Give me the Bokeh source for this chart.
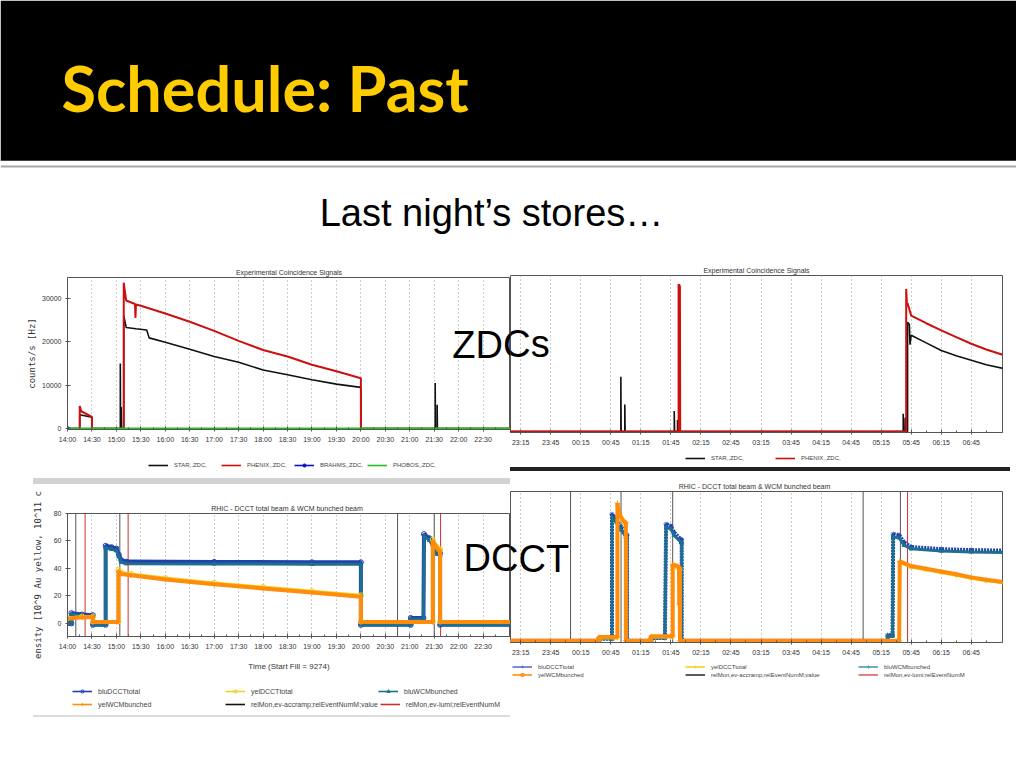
from bokeh.plotting import figure
from bokeh.models import Range1d, Label, Span, BoxAnnotation, Legend, LegendItem, FixedTicker, Spacer
from bokeh.layouts import column, row
from bokeh.embed import file_html
from bokeh.resources import INLINE

# ---------------- texts ----------------
slide_title = "Schedule: Past"
slide_subtitle = "Last night\u2019s stores\u2026"
zdc_tag = "ZDCs"
dcct_tag = "DCCT"
zdc_title = "Experimental Coincidence Signals"
dcct_title = "RHIC  -  DCCT total beam & WCM bunched beam"
zdc_ylabel = "counts/s [Hz]"
dcct_ylabel = "ensity [10^9 Au yellow, 10^11 c"
dcct_xlabel = "Time (Start Fill = 9274)"

# ---------------- ticks ----------------
left_ticks = [14.0, 14.5, 15.0, 15.5, 16.0, 16.5, 17.0, 17.5, 18.0, 18.5,
              19.0, 19.5, 20.0, 20.5, 21.0, 21.5, 22.0, 22.5]
left_tick_labels = ["14:00", "14:30", "15:00", "15:30", "16:00", "16:30", "17:00", "17:30", "18:00",
                    "18:30", "19:00", "19:30", "20:00", "20:30", "21:00", "21:30", "22:00", "22:30"]
right_ticks = [23.25, 23.75, 24.25, 24.75, 25.25, 25.75, 26.25, 26.75,
               27.25, 27.75, 28.25, 28.75, 29.25, 29.75, 30.25, 30.75]
right_tick_labels = ["23:15", "23:45", "00:15", "00:45", "01:15", "01:45", "02:15", "02:45",
                     "03:15", "03:45", "04:15", "04:45", "05:15", "05:45", "06:15", "06:45"]
zdc_yticks = [0, 10000, 20000, 30000]
dcct_yticks = [0, 20, 40, 60, 80]

# ---------------- ZDC, evening (hours, counts/s) ----------------
star_a_t = [14.00, 14.25, 14.25, 14.50, 14.50, 15.08, 15.08, 15.085, 15.10, 15.10, 15.105,
            15.15, 15.15, 15.20, 15.40, 15.62, 15.67, 16.00, 16.50, 17.00, 17.50, 18.00,
            18.50, 19.00, 19.50, 20.00, 20.00, 21.52, 21.52, 21.525, 21.56, 21.56, 21.565, 23.10]
star_a_v = [0, 0, 3200, 2600, 0, 0, 15000, 0, 0, 5000, 0,
            0, 26000, 23300, 23000, 22700, 20900, 19900, 18300, 16600, 15300, 13500,
            12400, 11250, 10250, 9500, 0, 0, 10500, 0, 0, 5500, 0, 0]
phenix_a_t = [14.00, 14.25, 14.25, 14.28, 14.50, 14.50, 15.15, 15.15, 15.20, 15.38, 15.39, 15.40,
              15.50, 16.00, 16.50, 17.00, 17.50, 18.00, 18.50, 19.00, 19.50, 20.00, 20.00, 23.10]
phenix_a_v = [0, 0, 5200, 4000, 2700, 0, 0, 33600, 29500, 28700, 25500, 28600,
              28300, 26500, 24600, 22500, 20200, 18100, 16600, 14700, 13200, 11600, 0, 0]
brahms_a_t = [14.0]
brahms_a_v = [0]
phobos_a_t = [14.0, 23.1]
phobos_a_v = [0, 0]

# ---------------- ZDC, night (hours after previous midnight) ----------------
star_b_t = [23.00, 24.917, 24.917, 24.922, 24.983, 24.983, 24.988, 25.806, 25.806, 25.811,
            25.86, 25.86, 25.865, 29.617, 29.617, 29.622, 29.65, 29.65, 29.655, 29.69, 29.69,
            29.72, 29.73, 29.75, 30.00, 30.25, 30.50, 30.75, 31.00, 31.30]
star_b_v = [0, 0, 12300, 0, 0, 6100, 0, 0, 4600, 0,
            0, 2600, 0, 0, 4000, 0, 0, 3100, 0, 0, 24500,
            24000, 19500, 21600, 19900, 18200, 17000, 16000, 15000, 14100]
phenix_b_t = [23.00, 25.878, 25.878, 25.885, 25.89, 25.90, 25.905, 29.667, 29.667, 29.68,
              29.69, 29.75, 30.00, 30.25, 30.50, 30.75, 31.00, 31.30]
phenix_b_v = [0, 0, 33100, 31500, 33000, 32500, 0, 0, 32000, 28300,
              28800, 26000, 24300, 22700, 21200, 19700, 18400, 17100]

# ---------------- DCCT, evening ----------------
blu_a_t = [14.00, 14.08, 14.08, 14.30, 14.52, 14.52, 14.78, 14.78, 14.90, 15.00, 15.05, 15.10,
           15.20, 17.00, 19.00, 20.00, 20.00, 21.02, 21.02, 21.28, 21.29, 21.40, 21.47, 21.55,
           21.62, 21.62, 23.10]
blu_tot_a_v = [0, 0, 7.5, 6.5, 6, -1, -1, 56.5, 55.5, 54.5, 50, 46,
               45, 44.8, 44.5, 44.5, -1, -1, 4, 4, 65, 62, 58.5, 52,
               51, -1, -1]
blu_wcm_a_v = [0, 0, 6.5, 5.5, 5, -1, -1, 55, 54, 53, 48.5, 44.5,
               43.5, 43.3, 43, 43, -1, -1, 3, 3, 63.5, 60.5, 57, 50.5,
               49.5, -1, -1]
yel_a_t = [14.00, 14.30, 14.52, 14.52, 15.04, 15.04, 15.10, 15.30, 16.00, 17.00, 18.00,
           19.00, 20.00, 20.00, 21.47, 21.47, 21.55, 21.60, 21.62, 21.62, 23.10]
yel_tot_a_v = [4, 5, 5, 1.5, 1.5, 39, 37, 36, 33, 29.5, 26.5,
               23.5, 20.5, 1.5, 1.5, 61, 56, 54, 54, 1.5, 1.5]
yel_wcm_a_v = [3.5, 4.5, 4.5, 1, 1, 38, 36, 35, 32, 28.5, 25.5,
               22.5, 19.5, 1, 1, 60, 55, 53, 53, 1, 1]
accramp_a = [14.17, 15.07, 20.75, 21.50]
lumi_a = [14.36, 15.24, 21.63]

# ---------------- DCCT, night ----------------
blu_b_t = [23.00, 24.55, 24.55, 24.77, 24.77, 24.80, 24.92, 25.00, 25.02, 25.02,
           25.42, 25.42, 25.65, 25.67, 25.75, 25.80, 25.92, 25.93, 25.93,
           29.36, 29.36, 29.44, 29.45, 29.55, 29.63, 29.75, 30.25, 30.75, 31.30]
blu_tot_b_v = [0, 0, 1, 1, 69.5, 68, 62.5, 58.5, 58, 0,
               0, 1.5, 1.5, 64, 63, 59.5, 55.5, 55.5, 0,
               0, 3, 3, 58.5, 58, 54, 51.5, 50.3, 49.8, 49.5]
blu_wcm_b_v = [0, 0, 1, 1, 68, 66.5, 61, 57, 56.5, 0,
               0, 1.5, 1.5, 62.5, 61.5, 58, 54, 54, 0,
               0, 2.5, 2.5, 57, 56.5, 52.5, 50.5, 49.3, 48.8, 48.5]
yel_b_t = [23.00, 24.55, 24.55, 24.86, 24.86, 24.90, 24.97, 25.00, 25.00,
           25.42, 25.42, 25.78, 25.78, 25.86, 25.885, 25.89, 25.895, 25.90, 25.90,
           29.55, 29.56, 29.75, 30.00, 30.25, 30.50, 30.75, 31.00, 31.30]
yel_tot_b_v = [0, 0, 1.5, 1.5, 74, 68, 64.5, 64, 0,
               0, 2, 2, 41, 40, 39.5, 20, 39, 39, 0,
               0, 43, 40.5, 39, 37.5, 36, 34.3, 33, 31.7]
yel_wcm_b_v = [0, 0, 2, 2, 75.5, 69, 65.5, 65, 0,
               0, 2.5, 2.5, 42, 41, 40.5, 20, 40, 40, 0,
               0, 43.6, 41, 39.5, 38, 36.5, 34.8, 33.5, 32.2]
accramp_b = [24.08, 24.92, 25.78, 28.95, 29.57]
lumi_b = [29.69]

# ---------------- legend entries ----------------
zdc_a_names = ["STAR,,ZDC,", "PHENIX,,ZDC,", "BRAHMS,,ZDC,", "PHOBOS,,ZDC,"]
zdc_b_names = ["STAR,,ZDC,", "PHENIX,,ZDC,"]
dcct_row1 = ["bluDCCTtotal", "yelDCCTtotal", "bluWCMbunched"]
dcct_row2 = ["yelWCMbunched", "relMon,ev-accramp;relEventNumM;value", "relMon,ev-lumi;relEventNumM"]

# ---------------- styling ----------------
SMALL = "Liberation Sans"
MONO = "DejaVu Sans Mono"
C_STAR, C_PHENIX, C_BRAHMS, C_PHOBOS = "#111111", "#cc1010", "#1010c0", "#22c022"
C_BLU, C_WCM, C_YEL, C_ORA = "#2040b0", "#1d6f90", "#f2d21e", "#ff8c0a"
C_ACC, C_LUMI = "#555555", "#c83030"


def make_panel(width, height, x_rng, y_rng, borders, title, ticks, tick_labels, yticks, show_y):
    p = figure(width=width, height=height, x_range=Range1d(*x_rng), y_range=Range1d(*y_rng),
               output_backend="svg", toolbar_location=None,
               min_border_left=borders[0], min_border_right=borders[1],
               min_border_top=borders[2], min_border_bottom=borders[3])
    p.title.text = title
    p.title.align = "center"
    p.title.text_font = SMALL
    p.title.text_font_size = "7px"
    p.title.text_font_style = "normal"
    p.title.text_color = "#333333"
    p.title.standoff = 4
    p.outline_line_color = "#555555"
    p.border_fill_color = "white"
    minor = sorted(ticks + [t + 0.25 for t in ticks] + [ticks[0] - 0.25])
    xt = FixedTicker(ticks=ticks, minor_ticks=minor)
    p.xaxis.ticker = xt
    p.xgrid.ticker = xt
    p.xaxis.major_label_overrides = dict(zip(ticks, tick_labels))
    p.xgrid.grid_line_color = "#9a9a9a"
    p.xgrid.grid_line_dash = "1 3"
    p.ygrid.visible = False
    p.yaxis.ticker = FixedTicker(ticks=yticks, minor_ticks=[])
    for ax in p.axis:
        ax.axis_line_color = "#555555"
        ax.major_tick_line_color = "#555555"
        ax.minor_tick_line_color = "#555555"
        ax.major_tick_in = 3
        ax.major_tick_out = 2
        ax.minor_tick_in = 2
        ax.minor_tick_out = 0
        ax.major_label_text_font = SMALL
        ax.major_label_text_font_size = "7px"
        ax.major_label_text_color = "#333333"
        ax.major_label_standoff = 4
        ax.axis_label_text_font = MONO
        ax.axis_label_text_font_size = "9px"
        ax.axis_label_text_font_style = "normal"
        ax.axis_label_text_color = "#333333"
    if not show_y:
        p.yaxis.visible = False
    return p


def tag(p, x, y, text):
    p.add_layout(Label(x=x, y=y, text=text, text_font="Liberation Sans", text_font_size="38px",
                       text_color="black", text_baseline="alphabetic"))


def legend_fig(width, height, rows):
    """A strip under a panel that carries the panel's legend rows (sample glyphs kept off-range)."""
    f = figure(width=width, height=height, x_range=Range1d(0, 1), y_range=Range1d(0, 1),
               output_backend="svg", toolbar_location=None, min_border=0)
    f.axis.visible = False
    f.grid.visible = False
    f.outline_line_color = None
    off = [-5, -4]
    for names, styles, loc, font, h, label_w in rows:
        items = []
        for name, (color, marker) in zip(names, styles):
            rs = [f.line(off, off, color=color, line_width=1.6)]
            if marker:
                rs.append(f.scatter(off, off, marker=marker, size=5, line_color=color,
                                    fill_color=color if marker == "circle_dot" else None))
            items.append(LegendItem(label=name, renderers=rs))
        f.add_layout(Legend(items=items, orientation="horizontal", location=loc,
                            label_text_font=SMALL, label_text_font_size=font, glyph_width=20,
                            glyph_height=h, label_height=h, label_width=label_w, label_standoff=6,
                            spacing=2, padding=0, margin=0, border_line_color=None,
                            background_fill_alpha=0))
    return f


# ---------------- header ----------------
head = figure(width=1016, height=255, x_range=Range1d(0, 1016), y_range=Range1d(255, 0),
              output_backend="svg", toolbar_location=None, min_border=0)
head.axis.visible = False
head.grid.visible = False
head.outline_line_color = None
head.add_layout(BoxAnnotation(left=0, right=1016, top=0, bottom=160, fill_color="black",
                              fill_alpha=1, line_color=None))
head.add_layout(Span(location=160, dimension="width", line_color="#444444", line_width=1))
head.add_layout(Span(location=166, dimension="width", line_color="#a8a8a8", line_width=2))
head.add_layout(Label(x=61, y=87, text=slide_title, text_font="Lato", text_font_style="bold",
                      text_font_size="63px", text_color="#ffcc00", text_baseline="alphabetic"))
head.add_layout(Label(x=491, y=212, text=slide_subtitle, text_font="Liberation Sans",
                      text_font_size="38px", text_color="black", text_align="center",
                      text_baseline="alphabetic"))

# ---------------- ZDC evening ----------------
tl = make_panel(510, 200, (14.0, 23.06), (-200, 34800), (67, 0, 22, 26), zdc_title,
                left_ticks, left_tick_labels, zdc_yticks, True)
tl.yaxis.axis_label = zdc_ylabel
tl.yaxis.axis_label_standoff = 2
tl.line(star_a_t, star_a_v, color=C_STAR, line_width=1.6)
tl.line(phenix_a_t, phenix_a_v, color=C_PHENIX, line_width=2)
tl.line(brahms_a_t, brahms_a_v, color=C_BRAHMS, line_width=1.5)
tl.scatter(brahms_a_t, brahms_a_v, marker="circle", size=4, color=C_BRAHMS)
tl.line(phobos_a_t, phobos_a_v, color=C_PHOBOS, line_width=2.5)
tag(tl, 21.87, 19370, zdc_tag)
tl_leg = legend_fig(510, 23, [(zdc_a_names,
                               [(C_STAR, None), (C_PHENIX, None), (C_BRAHMS, "circle_dot"),
                                (C_PHOBOS, None)], (81, 9), "6px", 8, 45)])

# ---------------- ZDC night ----------------
tr = make_panel(506, 195, (23.08, 31.27), (-200, 35000), (0, 14, 20, 18), zdc_title,
                right_ticks, right_tick_labels, zdc_yticks, False)
tr.line(star_b_t, star_b_v, color=C_STAR, line_width=1.6)
tr.line(phenix_b_t, phenix_b_v, color=C_PHENIX, line_width=2)
tag(tr, 22.115, 19530, zdc_tag)
tr_leg = legend_fig(506, 17, [(zdc_b_names, [(C_STAR, None), (C_PHENIX, None)],
                               (175, 5), "6px", 8, 62)])


def dcct(p, bt, btot, bwcm, yt, ytot, ywcm, acc, lumi, ylo, yhi, blu_marker, dotted):
    p.segment(x0=acc, y0=[ylo] * len(acc), x1=acc, y1=[yhi] * len(acc), color=C_ACC, line_width=1)
    p.segment(x0=lumi, y0=[ylo] * len(lumi), x1=lumi, y1=[yhi] * len(lumi), color=C_LUMI, line_width=1)
    p.line(bt, btot, color=C_BLU, line_width=4, line_dash="2 1" if dotted else "solid")
    p.scatter(bt, btot, marker=blu_marker, size=5, line_color=C_BLU, fill_color=None)
    p.line(bt, bwcm, color=C_WCM, line_width=3)
    p.scatter(bt, bwcm, marker="triangle", size=4, color=C_WCM)
    p.line(yt, ytot, color=C_YEL, line_width=3)
    p.scatter(yt, ytot, marker=blu_marker, size=5, line_color=C_YEL, fill_color=None)
    p.line(yt, ywcm, color=C_ORA, line_width=4)
    p.scatter(yt, ywcm, marker="cross", size=5, color=C_ORA)


# ---------------- DCCT evening ----------------
bl = make_panel(510, 196, (14.0, 23.06), (-9.5, 80), (67, 0, 29, 44), dcct_title,
                left_ticks, left_tick_labels, dcct_yticks, True)
bl.yaxis.axis_label = dcct_ylabel
bl.yaxis.axis_label_standoff = 8
bl.xaxis.axis_label = dcct_xlabel
bl.xaxis.axis_label_text_font = SMALL
bl.xaxis.axis_label_text_font_size = "8px"
bl.xaxis.axis_label_standoff = 9
dcct(bl, blu_a_t, blu_tot_a_v, blu_wcm_a_v, yel_a_t, yel_tot_a_v, yel_wcm_a_v,
     accramp_a, lumi_a, -9.5, 80, "circle", False)
tag(bl, 22.10, 47.26, dcct_tag)
bl_leg = legend_fig(510, 35, [
    (dcct_row1, [(C_BLU, "circle"), (C_YEL, "circle"), (C_WCM, "triangle")], (5, 20), "7px", 8, 125),
    (dcct_row2, [(C_ORA, "cross"), ("#111111", None), (C_LUMI, None)], (5, 7), "7px", 8, 125)])

# ---------------- DCCT night ----------------
br = make_panel(506, 189, (23.08, 31.27), (-1, 82), (0, 14, 20, 18), dcct_title,
                right_ticks, right_tick_labels, dcct_yticks, False)
dcct(br, blu_b_t, blu_tot_b_v, blu_wcm_b_v, yel_b_t, yel_tot_b_v, yel_wcm_b_v,
     accramp_b, lumi_b, -1, 82, "asterisk", True)
tag(br, 22.30, 45.17, dcct_tag)
br_leg = legend_fig(506, 40, [
    (dcct_row1, [("#6070d0", "asterisk"), (C_YEL, "asterisk"), ("#4a9ab0", "diamond")], (2, 30), "6px", 7, 145),
    (dcct_row2, [(C_ORA, "square"), ("#333333", None), ("#e06060", None)], (2, 22), "6px", 7, 145)])

# ---------------- separators ----------------
gray_bar = row(Spacer(width=33, height=6),
               Spacer(width=477, height=6, styles={"background-color": "#d2d2d2"}))
gray_line = row(Spacer(width=33, height=2),
                Spacer(width=477, height=2, styles={"background-color": "#dcdcdc"}))
black_bar = Spacer(width=500, height=4, styles={"background-color": "#222222"})

left_col = column(tl, tl_leg, gray_bar, bl, bl_leg, gray_line)
right_col = column(tr, tr_leg, black_bar, br, br_leg)
page = column(head, row(left_col, right_col))

open("out.html", "w").write(file_html(page, INLINE))
